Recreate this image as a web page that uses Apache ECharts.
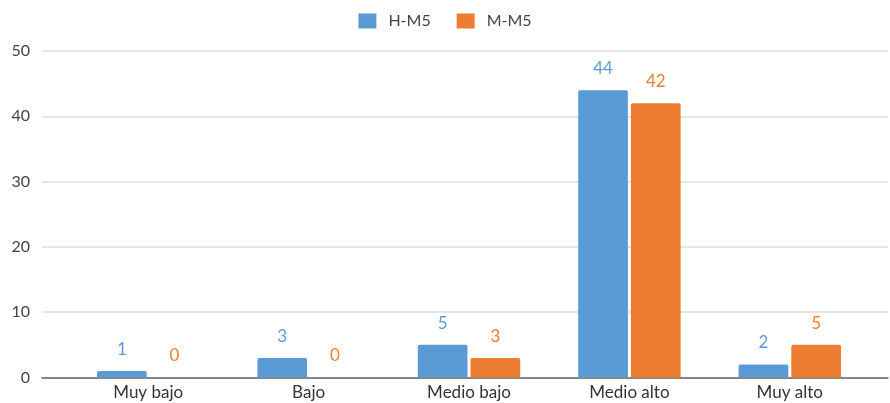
<!DOCTYPE html>
<html>
<head>
<meta charset="utf-8">
<script src="https://cdn.jsdelivr.net/npm/echarts@6/dist/echarts.min.js"></script>
<style>
  html, body { margin: 0; padding: 0; background: #fff; }
  #chart { width: 890px; height: 403px; }
</style>
</head>
<body>
<div id="chart"></div>
<script>
// Score bands and counts per group
const categories = ['Muy bajo', 'Bajo', 'Medio bajo', 'Medio alto', 'Muy alto'];
const seriesNames = ['H-M5', 'M-M5'];
const hM5 = [1, 3, 5, 44, 2];
const mM5 = [0, 0, 3, 42, 5];
const yTicks = [0, 10, 20, 30, 40, 50];

const BLUE = '#5B9BD5';
const ORANGE = '#ED7D31';
const FONT = 'Lato, "Open Sans", sans-serif';

const chart = echarts.init(document.getElementById('chart'));

function barSeries(name, data, color) {
  return {
    name: name,
    type: 'bar',
    xAxisIndex: 1,
    yAxisIndex: 1,
    data: data,
    barWidth: '31%',
    barGap: '6%',
    itemStyle: { color: color, borderRadius: [2, 2, 0, 0] },
    label: {
      show: true,
      position: 'top',
      distance: 13,
      color: color,
      fontFamily: FONT,
      fontSize: 17
    }
  };
}

chart.setOption({
  animation: false,
  textStyle: { fontFamily: FONT },
  legend: {
    top: 8,
    left: 'center',
    itemWidth: 18,
    itemHeight: 15,
    itemGap: 26,
    icon: 'rect',
    textStyle: { color: '#444', fontSize: 16, fontFamily: FONT, padding: [0, 0, 0, 7] },
    data: seriesNames
  },
  grid: [
    // Frame: value scale, gridlines and baseline across the full width
    { left: 42, right: 2, top: 51, bottom: 25.5 },
    // Plot area holding the bars and category labels
    { left: 68, right: 20, top: 51, bottom: 25.5 }
  ],
  xAxis: [
    {
      gridIndex: 0,
      type: 'value',
      min: 0,
      max: 1,
      axisLine: { show: true, onZero: false, lineStyle: { color: '#666', width: 1.5 } },
      axisTick: { show: false },
      axisLabel: { show: false },
      splitLine: { show: false }
    },
    {
      gridIndex: 1,
      type: 'category',
      data: categories,
      axisLine: { show: false },
      axisTick: { show: false },
      axisLabel: { color: '#333', fontSize: 17, fontFamily: FONT, margin: 7 }
    }
  ],
  yAxis: [
    {
      gridIndex: 0,
      type: 'value',
      min: yTicks[0],
      max: yTicks[yTicks.length - 1],
      interval: 10,
      axisLine: { show: false },
      axisTick: { show: false },
      axisLabel: { color: '#444', fontSize: 16, fontFamily: FONT, margin: 12 },
      splitLine: { lineStyle: { color: '#dcdcdc', width: 1.5 } }
    },
    {
      gridIndex: 1,
      type: 'value',
      min: yTicks[0],
      max: yTicks[yTicks.length - 1],
      interval: 10,
      show: false
    }
  ],
  series: [
    barSeries(seriesNames[0], hM5, BLUE),
    barSeries(seriesNames[1], mM5, ORANGE)
  ]
});
</script>
</body>
</html>
